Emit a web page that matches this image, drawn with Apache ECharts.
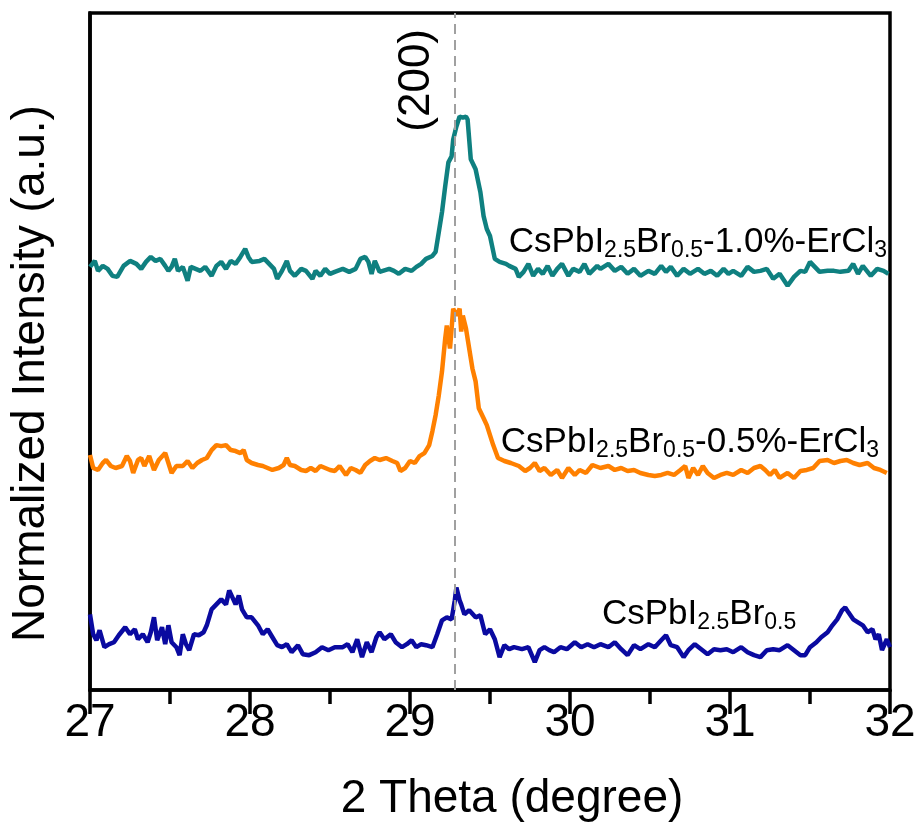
<!DOCTYPE html>
<html>
<head>
<meta charset="utf-8">
<script src="https://cdn.jsdelivr.net/npm/echarts@6/dist/echarts.min.js"></script>
<style>html,body{margin:0;padding:0;background:#fff;}#chart{width:922px;height:827px;}</style>
</head>
<body>
<div id="chart"></div>
<script>
// 2-theta positions (degree) and normalized intensities (arbitrary units, offset-stacked)
const thetaTeal = [27.00,27.03,27.05,27.08,27.11,27.14,27.17,27.21,27.25,27.29,27.32,27.35,27.38,27.41,27.44,27.47,27.49,27.51,27.53,27.55,27.58,27.61,27.63,27.66,27.69,27.72,27.76,27.79,27.82,27.85,27.88,27.91,27.94,27.97,27.99,28.01,28.06,28.09,28.12,28.15,28.17,28.20,28.23,28.25,28.28,28.32,28.35,28.39,28.41,28.44,28.47,28.50,28.53,28.58,28.62,28.66,28.69,28.72,28.74,28.76,28.78,28.81,28.87,28.90,28.93,28.97,29.01,29.04,29.07,29.10,29.14,29.16,29.18,29.20,29.22,29.24,29.26,29.27,29.29,29.31,29.33,29.35,29.36,29.38,29.41,29.44,29.46,29.48,29.50,29.53,29.56,29.60,29.62,29.66,29.68,29.71,29.74,29.77,29.80,29.83,29.86,29.89,29.92,29.95,29.99,30.02,30.06,30.09,30.12,30.17,30.19,30.24,30.28,30.32,30.36,30.40,30.44,30.49,30.53,30.57,30.60,30.63,30.67,30.71,30.75,30.80,30.84,30.88,30.92,30.96,30.99,31.02,31.07,31.11,31.15,31.19,31.23,31.27,31.31,31.36,31.40,31.44,31.47,31.50,31.53,31.56,31.61,31.65,31.69,31.74,31.77,31.80,31.83,31.88,31.92,31.96,31.99];
const intTeal = [425,431,421,426,423,416,415,426,431,428,423,430,435,431,433,426,421,425,433,421,425,411,425,423,421,425,416,426,430,423,431,428,435,443,435,430,431,433,428,423,413,421,431,421,416,423,421,413,421,416,423,418,420,423,420,423,433,435,430,418,431,420,423,421,418,423,421,425,428,433,436,440,460,480,506,530,536,553,566,576,575,576,573,533,523,500,476,463,456,433,430,428,426,423,415,420,428,416,423,418,426,416,423,428,416,423,420,428,418,426,423,428,421,425,418,423,416,421,418,426,420,425,416,423,418,423,418,421,416,423,418,421,416,425,420,421,423,413,418,406,415,421,420,430,425,420,421,421,420,421,428,418,426,416,423,421,418];

const thetaOrange = [27.00,27.02,27.05,27.08,27.10,27.13,27.16,27.20,27.23,27.25,27.27,27.30,27.32,27.34,27.37,27.40,27.43,27.47,27.49,27.51,27.54,27.58,27.61,27.64,27.67,27.70,27.73,27.76,27.79,27.82,27.85,27.88,27.91,27.94,27.96,27.98,28.01,28.05,28.08,28.11,28.14,28.18,28.21,28.23,28.25,28.28,28.32,28.35,28.38,28.41,28.44,28.47,28.50,28.53,28.56,28.60,28.63,28.66,28.69,28.72,28.75,28.78,28.81,28.85,28.89,28.92,28.94,28.97,29.00,29.03,29.06,29.09,29.12,29.14,29.16,29.18,29.20,29.22,29.23,29.25,29.27,29.29,29.31,29.32,29.33,29.35,29.36,29.39,29.41,29.43,29.46,29.48,29.52,29.55,29.59,29.63,29.68,29.72,29.75,29.78,29.81,29.84,29.88,29.92,29.95,29.99,30.03,30.06,30.10,30.14,30.19,30.24,30.28,30.32,30.36,30.40,30.44,30.49,30.53,30.57,30.61,30.65,30.69,30.72,30.74,30.77,30.80,30.83,30.86,30.90,30.94,30.98,31.02,31.07,31.11,31.15,31.19,31.22,31.25,31.28,31.31,31.36,31.40,31.44,31.48,31.52,31.56,31.61,31.65,31.69,31.73,31.77,31.81,31.86,31.90,31.94,31.98];
const intOrange = [236,223,221,228,231,225,223,225,235,230,218,231,233,225,235,221,231,238,228,218,225,225,230,223,228,231,233,241,246,245,246,241,240,238,241,231,228,226,225,223,221,223,226,233,226,225,221,220,223,220,225,223,221,220,225,216,223,221,218,226,230,233,231,233,230,228,220,223,230,228,235,238,246,260,276,296,320,353,366,343,383,376,383,360,376,363,353,323,310,283,273,266,246,233,230,228,225,220,223,228,220,223,216,221,213,223,216,221,218,226,223,225,221,223,220,221,218,216,215,216,218,216,221,225,213,223,216,225,218,213,216,218,216,221,218,223,225,221,216,221,213,218,213,220,221,223,230,231,228,230,231,228,226,228,223,221,218];

const thetaBlue = [27.00,27.02,27.04,27.06,27.09,27.12,27.15,27.18,27.22,27.25,27.28,27.30,27.33,27.36,27.38,27.40,27.42,27.45,27.47,27.49,27.51,27.54,27.56,27.58,27.60,27.62,27.65,27.68,27.71,27.73,27.76,27.79,27.82,27.85,27.87,27.89,27.91,27.93,27.95,27.98,28.01,28.05,28.08,28.11,28.14,28.17,28.20,28.23,28.26,28.30,28.33,28.37,28.41,28.45,28.49,28.53,28.58,28.61,28.64,28.67,28.70,28.73,28.76,28.79,28.81,28.84,28.88,28.91,28.95,28.98,29.01,29.04,29.07,29.10,29.14,29.17,29.20,29.23,29.26,29.28,29.29,29.31,29.32,29.34,29.37,29.41,29.44,29.47,29.50,29.53,29.56,29.59,29.62,29.65,29.70,29.74,29.78,29.81,29.84,29.87,29.90,29.94,29.98,30.03,30.07,30.11,30.15,30.19,30.24,30.28,30.32,30.36,30.40,30.44,30.49,30.53,30.57,30.60,30.63,30.67,30.71,30.74,30.78,30.82,30.86,30.90,30.94,30.98,31.02,31.07,31.11,31.15,31.19,31.23,31.27,31.31,31.36,31.40,31.44,31.47,31.50,31.54,31.57,31.61,31.64,31.67,31.70,31.72,31.74,31.77,31.80,31.83,31.86,31.89,31.91,31.93,31.95,31.98,32.00];
const intBlue = [76,56,50,60,43,46,48,55,63,56,61,51,56,48,58,73,50,63,46,65,48,43,35,56,46,40,56,55,58,65,81,86,91,86,100,93,86,95,81,73,73,65,56,61,53,45,43,46,38,45,36,35,38,43,40,43,43,46,38,51,33,48,38,53,58,51,56,48,43,46,50,43,46,45,43,56,70,73,71,90,103,90,86,76,80,73,75,56,61,51,33,45,41,43,41,43,28,40,43,40,38,43,41,48,43,46,43,46,43,48,41,35,45,41,46,43,50,55,45,43,33,40,46,41,36,41,40,41,38,43,38,35,33,40,41,40,45,40,35,35,43,48,53,58,65,71,80,83,78,71,68,65,58,61,51,56,40,51,43];

const xTicks = [27, 28, 29, 30, 31, 32];
const peakPosition = 29.28;
const peakLabel = '(200)';
const seriesNames = ['CsPbI2.5Br0.5-1.0%-ErCl3', 'CsPbI2.5Br0.5-0.5%-ErCl3', 'CsPbI2.5Br0.5'];

const pair = (xs, ys) => xs.map((x, i) => [x, ys[i]]);
const FONT = 'Liberation Sans, Arial, sans-serif';

const chart = echarts.init(document.getElementById('chart'), null, {renderer: 'canvas'});

const rich = {
  m: {fontSize: 35, fontFamily: FONT, color: '#000', lineHeight: 40},
  s: {fontSize: 23, fontFamily: FONT, color: '#000', lineHeight: 22, verticalAlign: 'bottom'}
};

chart.setOption({
  animation: false,
  backgroundColor: '#fff',
  grid: {left: 87, right: 32, top: 13, bottom: 134, show: true, borderColor: '#000', borderWidth: 3.5},
  xAxis: {
    type: 'value', min: 27, max: 32, interval: 1,
    name: '2 Theta (degree)', nameLocation: 'middle', nameGap: 86,
    nameTextStyle: {fontSize: 46, fontFamily: FONT, color: '#000', padding: [0, 0, 0, 44]},
    axisLine: {show: true, lineStyle: {color: '#000', width: 3.5}},
    axisTick: {show: true, inside: false, length: 24, lineStyle: {color: '#000', width: 3.5}},
    minorTick: {show: true, splitNumber: 2, length: 14, lineStyle: {color: '#000', width: 3.5}},
    axisLabel: {fontSize: 46, fontFamily: FONT, color: '#000', margin: 10,
      formatter: v => xTicks.includes(v) ? String(v) : ''},
    splitLine: {show: false}
  },
  yAxis: {
    type: 'value', min: 0, max: 680,
    name: 'Normalized Intensity (a.u.)', nameLocation: 'middle', nameGap: 36,
    nameTextStyle: {fontSize: 46, fontFamily: FONT, color: '#000', padding: [0, 44, 0, 0]},
    axisLine: {show: true, lineStyle: {color: '#000', width: 3.5}},
    axisTick: {show: false}, axisLabel: {show: false}, splitLine: {show: false}
  },
  series: [
    {
      name: seriesNames[0], type: 'line', data: pair(thetaTeal, intTeal), showSymbol: false,
      lineStyle: {color: '#0f8080', width: 4.5}, z: 3,
      markLine: {
        silent: true, symbol: 'none', animation: false,
        lineStyle: {color: '#a0a0a0', type: [10, 6], width: 2},
        label: {show: true, formatter: peakLabel, position: 'insideEndTop', distance: 16,
          fontSize: 44, fontFamily: FONT, color: '#000'},
        data: [{xAxis: peakPosition}]
      }
    },
    {name: seriesNames[1], type: 'line', data: pair(thetaOrange, intOrange), showSymbol: false,
      lineStyle: {color: '#ff8000', width: 4.5}, z: 3},
    {name: seriesNames[2], type: 'line', data: pair(thetaBlue, intBlue), showSymbol: false,
      lineStyle: {color: '#0a0aa0', width: 4.5}, z: 3}
  ],
  graphic: [
    {type: 'text', right: 35, top: 225, z: 10,
      style: {text: '{m|CsPbI}{s|2.5}{m|Br}{s|0.5}{m|-1.0%-ErCl}{s|3}', rich: rich}},
    {type: 'text', right: 43, top: 425, z: 10,
      style: {text: '{m|CsPbI}{s|2.5}{m|Br}{s|0.5}{m|-0.5%-ErCl}{s|3}', rich: rich}},
    {type: 'text', left: 602, top: 597, z: 10,
      style: {text: '{m|CsPbI}{s|2.5}{m|Br}{s|0.5}', rich: rich}}
  ]
});
</script>
</body>
</html>
